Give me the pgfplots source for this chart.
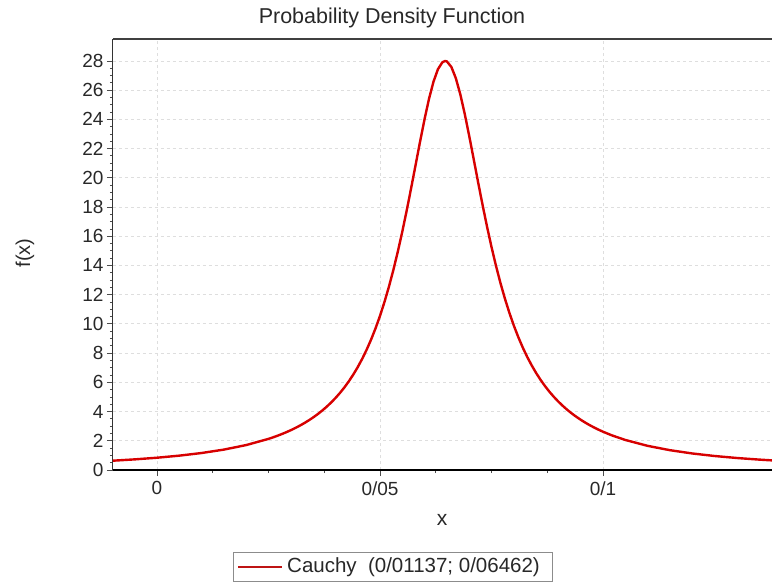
\documentclass[border=0pt]{standalone}
\usepackage{fontspec}
\setmainfont{Liberation Sans}
\usepackage{pgfplots}
\pgfplotsset{compat=1.18}
\definecolor{curve}{RGB}{215,0,0}
\definecolor{legc}{RGB}{190,20,20}
\definecolor{gridc}{RGB}{222,222,222}
\definecolor{txt}{RGB}{40,40,40}
\begin{document}
\begin{tikzpicture}
\begin{axis}[
  at={(0pt,0pt)}, anchor=south west,
  scale only axis, width=659pt, height=431pt,
  xmin=-0.00987, xmax=0.1379, ymin=0, ymax=29.5,
  axis x line=bottom, axis y line=left,
  x axis line style={-, line width=1.6pt, black},
  y axis line style={-, line width=1pt, black!80},
  xtick={0,0.05,0.1}, xticklabels={0,0/05,0/1},
  ytick={0,2,...,28},
  minor x tick num=3, minor y tick num=3,
  tick align=outside,
  major tick length=6pt, minor tick length=3pt,
  tick style={black!70, line width=0.8pt},
  xmajorgrids, ymajorgrids,
  grid style={gridc, dashed, line width=0.8pt},
  /pgf/number format/assume math mode=true,
  ticklabel style={font=\fontsize{19}{21}\selectfont, text=txt},
  yticklabel style={xshift=0pt},
  xticklabel style={yshift=-2pt},
  clip=true,
]
\draw[black!75, line width=1.4pt] (rel axis cs:0,1) -- (rel axis cs:1,1);
\addplot[curve, line width=2.4pt, line join=round] coordinates {
(-0.01,0.6346) (-0.005,0.7273) (0,0.8407) (0.005,0.9825) (0.01,1.1627)
(0.015,1.3966) (0.02,1.7069) (0.025,2.1300) (0.026,2.2329) (0.027,2.3432)
(0.028,2.4614) (0.029,2.5887) (0.03,2.7256) (0.031,2.8733) (0.032,3.0327)
(0.033,3.2053) (0.034,3.3921) (0.035,3.5953) (0.036,3.8159) (0.037,4.0566)
(0.038,4.319) (0.039,4.6065) (0.04,4.9210) (0.041,5.2666) (0.042,5.646)
(0.043,6.0653) (0.044,6.5274) (0.045,7.0382) (0.046,7.603)
(0.047,8.230) (0.048,8.9249) (0.049,9.696) (0.05,10.551) (0.051,11.497)
(0.052,12.544) (0.053,13.693) (0.054,14.953) (0.055,16.316) (0.056,17.779)
(0.057,19.319) (0.058,20.907) (0.059,22.499) (0.060,24.028) (0.061,25.418)
(0.062,26.583) (0.063,27.438) (0.064,27.912) (0.06462,27.995) (0.065,27.964)
(0.066,27.589) (0.067,26.820) (0.068,25.722) (0.069,24.377) (0.070,22.873)
(0.071,21.292) (0.072,19.696) (0.073,18.141) (0.074,16.658) (0.075,15.270)
(0.076,13.987) (0.077,12.810) (0.078,11.739) (0.079,10.770) (0.080,9.893)
(0.081,9.103) (0.082,8.390) (0.083,7.748) (0.084,7.169) (0.085,6.645)
(0.086,6.172) (0.087,5.744) (0.088,5.354) (0.089,5.001) (0.090,4.679)
(0.091,4.386) (0.092,4.117) (0.093,3.872) (0.094,3.647) (0.095,3.440)
(0.096,3.249) (0.097,3.073) (0.098,2.9104) (0.099,2.7600) (0.1,2.6206)
(0.102,2.3707) (0.105,2.0565)
(0.11,1.6536) (0.115,1.3567) (0.12,1.1323) (0.125,0.9587) (0.13,0.8218)
(0.135,0.7120) (0.138,0.6564)
};
\end{axis}
% title, axis labels, legend (positions in picture points; origin = axis south west)
\node[font=\fontsize{21.5}{24}\selectfont, text=txt] at (279pt,452pt) {Probability Density Function};
\node[font=\fontsize{21}{24}\selectfont, text=txt] at (329pt,-50pt) {x};
\node[font=\fontsize{20}{24}\selectfont, text=txt, rotate=90] at (-88pt,217pt) {f(x)};
\node[draw=black!45, line width=0.8pt, fill=white, minimum width=319pt, minimum height=29pt, inner sep=0pt] (leg) at (279.5pt,-97pt) {};
\draw[legc, line width=2.4pt] (125pt,-97pt) -- (169pt,-97pt);
\node[anchor=west, font=\fontsize{20.5}{24}\selectfont, text=txt, inner sep=0pt] at (174pt,-97pt) {Cauchy\ \ (0/01137; 0/06462)};
\pgfresetboundingbox
\useasboundingbox (-113pt,-114pt) rectangle (659pt,470pt);
\end{tikzpicture}
\end{document}
